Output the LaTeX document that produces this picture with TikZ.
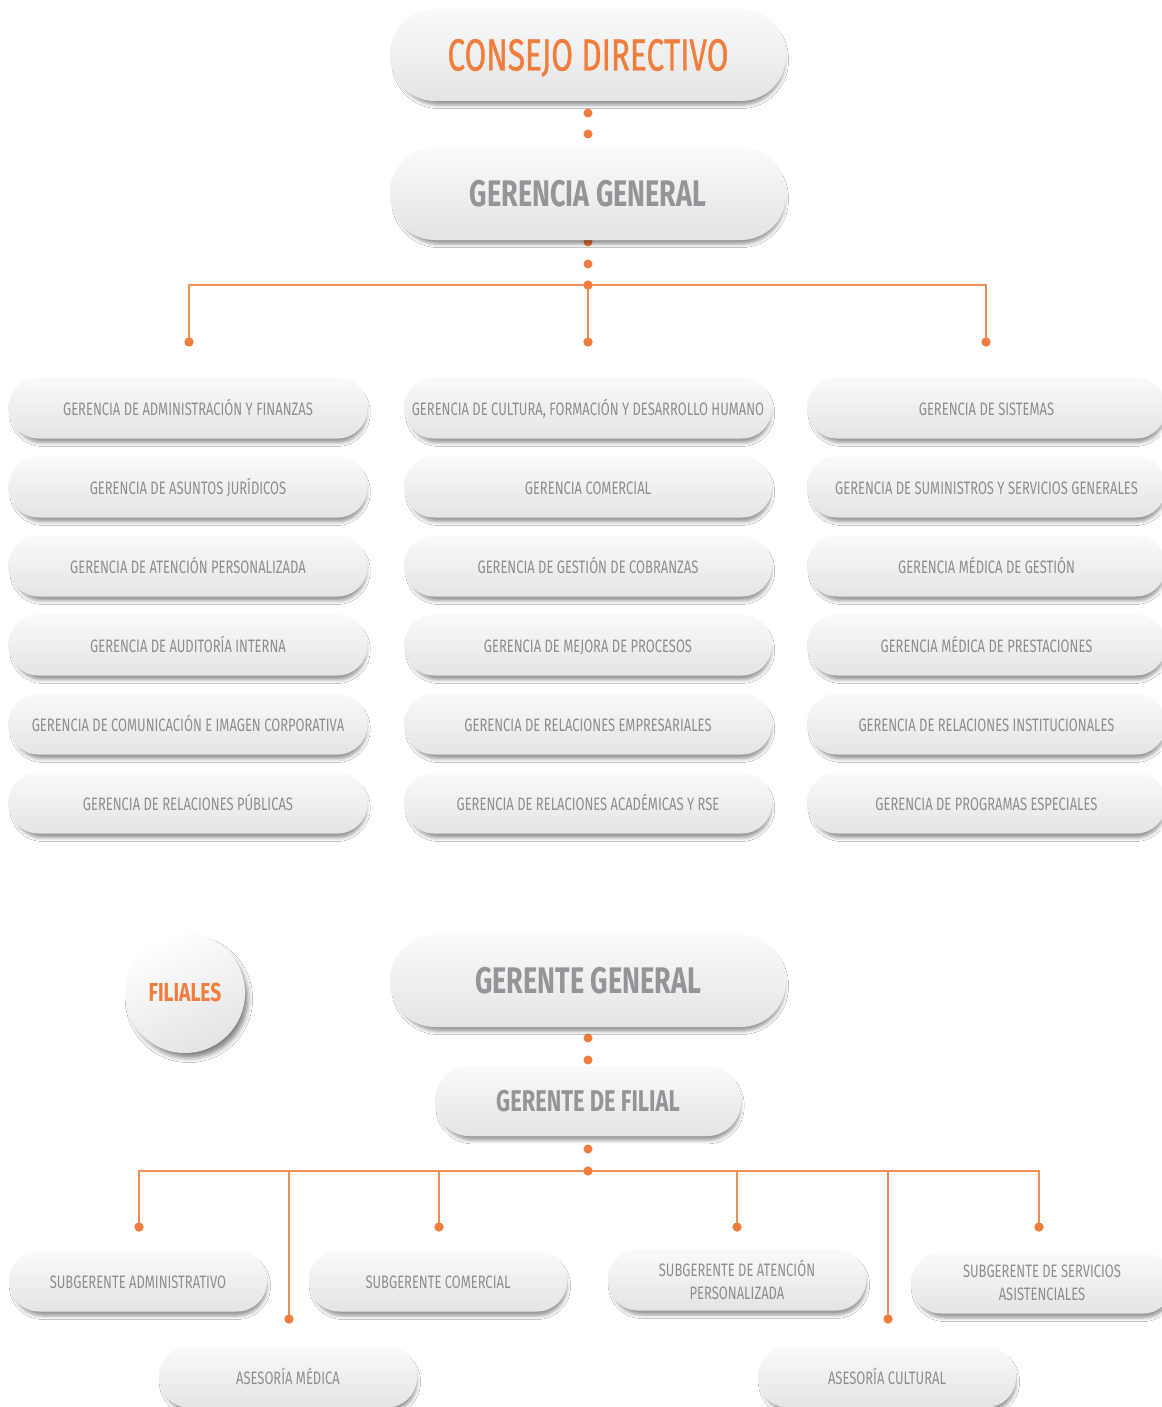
\documentclass[tikz,border=0pt]{standalone}
\usepackage{fontspec}
\setmainfont{Fira Sans}
\newfontfamily\condfont{Fira Sans}[FakeStretch=0.72]
\newfontfamily\cdfont{Fira Sans}[FakeStretch=0.70, FakeBold=0.8]
\newfontfamily\ttlfont{Fira Sans}[FakeStretch=0.73]
\newfontfamily\filfont{Fira Sans}[FakeStretch=0.74]
\usetikzlibrary{shadows.blur}
\definecolor{orng}{HTML}{F07D3C}
\definecolor{lineor}{HTML}{F28C55}
\definecolor{txtgray}{HTML}{8E8E90}
\definecolor{ttlgray}{HTML}{939598}
\definecolor{boxtop}{HTML}{FAFAFA}
\definecolor{boxbot}{HTML}{E4E4E5}
\tikzset{
  boxbase/.style={rectangle, top color=boxtop, bottom color=boxbot, draw=none,
    blur shadow={shadow xshift=2pt, shadow yshift=-5pt, shadow scale=0.985, shadow blur radius=3.5pt, shadow opacity=40},
    inner sep=0pt, align=center},
  bigbox/.style={boxbase, minimum width=396pt, minimum height=92pt, rounded corners=45pt},
  cdtext/.style={text=orng, font=\cdfont\fontsize{45}{50}\selectfont, text height=31pt, text depth=0pt},
  ggtext/.style={text=ttlgray, font=\ttlfont\bfseries\fontsize{37}{42}\selectfont, text height=25.5pt, text depth=0pt},
  midbox/.style={boxbase, minimum width=306pt, minimum height=70pt, rounded corners=34pt,
    text=ttlgray, font=\ttlfont\bfseries\fontsize{30}{34}\selectfont, text height=20.7pt, text depth=0pt},
  gridbox/.style={boxbase, minimum height=61pt, rounded corners=30pt, text=txtgray,
    font=\condfont\fontsize{18}{23.3}\selectfont, text height=14.4pt, text depth=0pt},
  subbox/.style={gridbox, minimum width=258pt},
  subbox2/.style={boxbase, minimum height=61pt, rounded corners=30pt, text=txtgray,
    font=\condfont\fontsize{18}{23.3}\selectfont, minimum width=258pt},
  dotn/.style={circle, fill=orng, inner sep=0pt, minimum size=9pt},
  conn/.style={draw=lineor, line width=1.6pt},
}
\begin{document}
\begin{tikzpicture}[x=1pt,y=-1pt]
\fill[white] (0,0) rectangle (1161,1407);
\useasboundingbox (0,0) rectangle (1161,1407);

% ---------- dots (drawn first so boxes may overlap) ----------
\node[dotn] (a1) at (588,113) {};
\node[dotn] (a2) at (588,134) {};
\node[dotn] (b1) at (588,242) {};
\node[dotn] (b2) at (588,264) {};
\node[dotn] (j1) at (588,285) {};
\node[dotn] (dL) at (189,342) {};
\node[dotn] (dM) at (588,342) {};
\node[dotn] (dR) at (986,342) {};

% ---------- top section ----------
\node[bigbox, cdtext] (cd) at (588,55) {CONSEJO DIRECTIVO};
\node[bigbox, ggtext] (gg) at (588,194) {GERENCIA GENERAL};

\draw[conn] (dL.center) -- (dL.center |- j1.center) -- (dR.center |- j1.center) -- (dR.center);
\draw[conn] (j1.center) -- (dM.center);
\node[dotn] at (j1) {};
\node[dotn] at (dL) {};
\node[dotn] at (dM) {};
\node[dotn] at (dR) {};

% ---------- grid ----------
\foreach \t [count=\i] in {GERENCIA DE ADMINISTRACIÓN Y FINANZAS,GERENCIA DE ASUNTOS JURÍDICOS,GERENCIA DE ATENCIÓN PERSONALIZADA,GERENCIA DE AUDITORÍA INTERNA,GERENCIA DE COMUNICACIÓN E IMAGEN CORPORATIVA,GERENCIA DE RELACIONES PÚBLICAS}
  \node[gridbox, minimum width=359pt] (L\i) at (188,329+79*\i) {\t};
\foreach \t [count=\i] in {{GERENCIA DE CULTURA, FORMACIÓN Y DESARROLLO HUMANO},GERENCIA COMERCIAL,GERENCIA DE GESTIÓN DE COBRANZAS,GERENCIA DE MEJORA DE PROCESOS,GERENCIA DE RELACIONES EMPRESARIALES,GERENCIA DE RELACIONES ACADÉMICAS Y RSE}
  \node[gridbox, minimum width=368pt] (M\i) at (588,329+79*\i) {\t};
\foreach \t [count=\i] in {GERENCIA DE SISTEMAS,GERENCIA DE SUMINISTROS Y SERVICIOS GENERALES,GERENCIA MÉDICA DE GESTIÓN,GERENCIA MÉDICA DE PRESTACIONES,GERENCIA DE RELACIONES INSTITUCIONALES,GERENCIA DE PROGRAMAS ESPECIALES}
  \node[gridbox, minimum width=359pt] (R\i) at (986.5,329+79*\i) {\t};

% ---------- bottom section ----------
\node[circle, minimum size=120pt, inner sep=0pt, shading=axis, top color=white, bottom color=boxbot, shading angle=25,
  blur shadow={shadow xshift=4pt, shadow yshift=-6pt, shadow scale=0.98, shadow blur radius=5pt, shadow opacity=50},
  text=orng, font=\filfont\bfseries\fontsize{26}{30}\selectfont, text height=17.5pt, text depth=0pt] (fil) at (185,993) {FILIALES};

\node[dotn] (c1) at (588,1038) {};
\node[dotn] (c2) at (588,1060) {};
\node[dotn] (e1) at (588,1149) {};
\node[dotn] (j2) at (588,1171) {};
\node[dotn] (s1) at (139,1227) {};
\node[dotn] (s2) at (289,1319) {};
\node[dotn] (s3) at (439,1227) {};
\node[dotn] (s4) at (737,1227) {};
\node[dotn] (s5) at (888,1319) {};
\node[dotn] (s6) at (1039,1227) {};

\node[bigbox, ggtext] (gte) at (588,981) {GERENTE GENERAL};
\node[midbox] (gf) at (588,1101) {GERENTE DE FILIAL};

\node[subbox] (sa) at (138,1281) {SUBGERENTE ADMINISTRATIVO};
\node[subbox] (sc) at (438,1281) {SUBGERENTE COMERCIAL};
\node[subbox2] (sp) at (737,1280) {SUBGERENTE DE ATENCIÓN\\PERSONALIZADA};
\node[subbox2, minimum width=262pt] (ss) at (1042,1283) {SUBGERENTE DE SERVICIOS\\ASISTENCIALES};
\node[subbox] (am) at (288,1377) {ASESORÍA MÉDICA};
\node[subbox] (ac) at (887,1377) {ASESORÍA CULTURAL};

\draw[conn] (s1.center) -- (s1.center |- j2.center) -- (s6.center |- j2.center) -- (s6.center);
\foreach \s in {s2,s3,s4,s5} \draw[conn] (\s.center |- j2.center) -- (\s.center);
\foreach \s in {s1,s2,s3,s4,s5,s6,j2} \node[dotn] at (\s) {};
\end{tikzpicture}
\end{document}
